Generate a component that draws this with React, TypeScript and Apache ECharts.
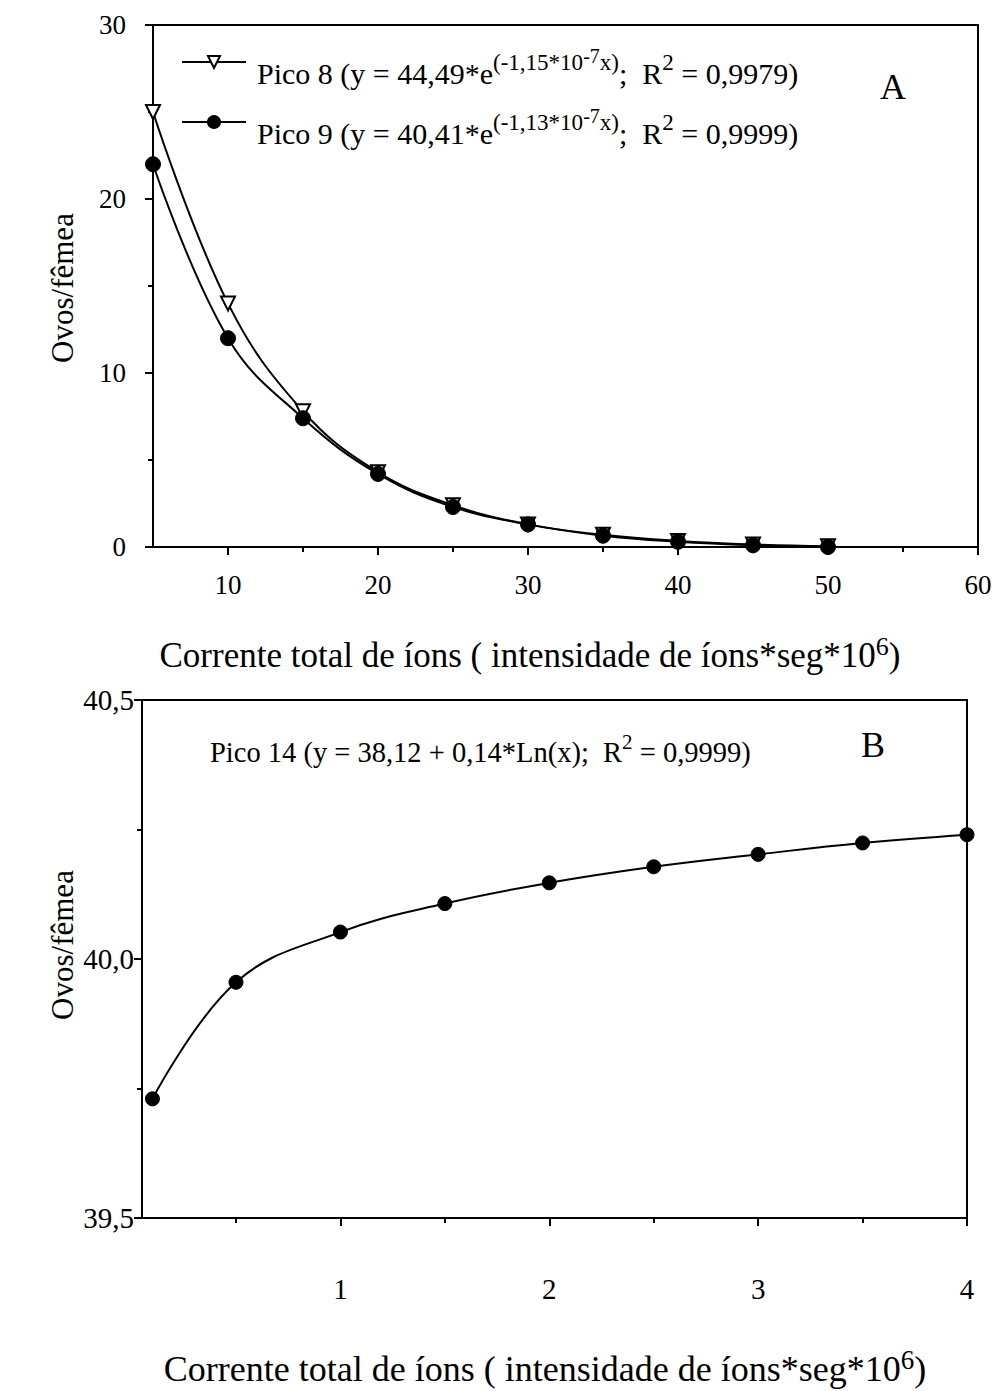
import React, { useEffect, useRef } from 'react';
import * as echarts from 'echarts';

// ---- Data ----
const xA = [5, 10, 15, 20, 25, 30, 35, 40, 45, 50];
const pico8 = [25.0, 14.0, 7.8, 4.3, 2.4, 1.3, 0.7, 0.35, 0.15, 0.05];
const pico9 = [22.0, 12.0, 7.4, 4.2, 2.3, 1.3, 0.65, 0.3, 0.1, 0.0];

const xB = [0.1, 0.5, 1, 1.5, 2, 2.5, 3, 3.5, 4];
const pico14 = [39.73, 39.955, 40.052, 40.107, 40.147, 40.178, 40.202, 40.224, 40.24];

const xATickLabels = [10, 20, 30, 40, 50, 60];
const xAMinorTicks = [15, 25, 35, 45, 55];
const xBTickLabels = [1, 2, 3, 4];
const xBMinorTicks = [0.5, 1.5, 2.5, 3.5];

const legendNames = ['Pico 8', 'Pico 9'];
const legendEquations: Record<string, string> = {
  'Pico 8': '{m0|Pico 8 (y = 44,49*e}{s|(-1,15*10}{ss|-7}{s|x)}{m|;  R}{s|2}{m| = 0,9979)}',
  'Pico 9': '{m0|Pico 9 (y = 40,41*e}{s|(-1,13*10}{ss|-7}{s|x)}{m|;  R}{s|2}{m| = 0,9999)}',
};
const annotationB = '{m|Pico 14 (y = 38,12 + 0,14*Ln(x);  R}{s|2}{m| = 0,9999)}';
const yTitle = 'Ovos/fêmea';
const xTitle = '{m|Corrente total de íons ( intensidade de íons*seg*10}{s|6}{m|)}';

const FONT = 'Liberation Serif';
const BLACK = '#000';

export default function App() {
  const ref = useRef<HTMLDivElement>(null);

  useEffect(() => {
    if (!ref.current) return;
    const chart = echarts.init(ref.current, undefined, { renderer: 'svg' });

    const axisLine = { show: true, lineStyle: { color: BLACK, width: 2 } };
    const labelStyle = { color: BLACK, fontFamily: FONT };

    const titleRich = (main: number, sup: number) => ({
      m: { fontSize: main, fontFamily: FONT, fill: BLACK, color: BLACK, padding: [Math.round(main * 0.5), 0, 0, 0] },
      s: { fontSize: sup, fontFamily: FONT, fill: BLACK, color: BLACK },
    });

    const option: any = {
      animation: false,
      backgroundColor: '#fff',
      textStyle: { fontFamily: FONT, color: BLACK },
      grid: [
        { left: 153, top: 25, width: 825, height: 522, show: true, borderColor: BLACK, borderWidth: 2, containLabel: false },
        { left: 142, top: 700, width: 825, height: 518, show: true, borderColor: BLACK, borderWidth: 2, containLabel: false },
      ],
      xAxis: [
        {
          gridIndex: 0, type: 'value', position: 'bottom', min: 5, max: 60,
          axisLine,
          axisTick: { show: true, customValues: xATickLabels, length: 8, lineStyle: { color: BLACK, width: 2 } },
          axisLabel: { show: true, customValues: xATickLabels, fontSize: 27, margin: 24, ...labelStyle },
          splitLine: { show: false },
        },
        {
          gridIndex: 0, type: 'value', position: 'bottom', offset: 0, min: 5, max: 60,
          axisLine: { show: false },
          axisTick: { show: true, customValues: xAMinorTicks, length: 5, lineStyle: { color: BLACK, width: 2 } },
          axisLabel: { show: false },
          splitLine: { show: false },
        },
        {
          gridIndex: 1, type: 'value', position: 'bottom', min: 0.05, max: 4,
          axisLine,
          axisTick: { show: true, customValues: xBTickLabels, length: 8, lineStyle: { color: BLACK, width: 2 } },
          axisLabel: { show: true, customValues: xBTickLabels, fontSize: 29, margin: 56, ...labelStyle },
          splitLine: { show: false },
        },
        {
          gridIndex: 1, type: 'value', position: 'bottom', offset: 0, min: 0.05, max: 4,
          axisLine: { show: false },
          axisTick: { show: true, customValues: xBMinorTicks, length: 5, lineStyle: { color: BLACK, width: 2 } },
          axisLabel: { show: false },
          splitLine: { show: false },
        },
      ],
      yAxis: [
        {
          gridIndex: 0, type: 'value', min: 0, max: 30, interval: 10,
          axisLine,
          axisTick: { show: true, length: 8, lineStyle: { color: BLACK, width: 2 } },
          minorTick: { show: true, splitNumber: 2, length: 5, lineStyle: { color: BLACK, width: 2 } },
          axisLabel: { fontSize: 27, margin: 27, ...labelStyle },
          splitLine: { show: false },
        },
        {
          gridIndex: 1, type: 'value', min: 39.5, max: 40.5, interval: 0.5,
          axisLine,
          axisTick: { show: true, length: 8, lineStyle: { color: BLACK, width: 2 } },
          minorTick: { show: true, splitNumber: 2, length: 5, lineStyle: { color: BLACK, width: 2 } },
          axisLabel: {
            fontSize: 29, margin: 8, ...labelStyle,
            formatter: (v: number) => v.toFixed(1).replace('.', ','),
          },
          splitLine: { show: false },
        },
      ],
      legend: {
        orient: 'vertical',
        left: 181,
        top: 46,
        padding: 0,
        itemWidth: 64,
        itemHeight: 15,
        itemGap: 18,
        selectedMode: false,
        data: legendNames,
        formatter: (name: string) => legendEquations[name],
        textStyle: {
          color: BLACK,
          fontFamily: FONT,
          rich: {
            m0: { fontSize: 30, fontFamily: FONT, color: BLACK, padding: [22, 0, 0, 6] },
            m: { fontSize: 30, fontFamily: FONT, color: BLACK, padding: [22, 0, 0, 0] },
            s: { fontSize: 23, fontFamily: FONT, color: BLACK },
            ss: { fontSize: 20, fontFamily: FONT, color: BLACK, padding: [0, 0, 12, 0] },
          },
        },
      },
      series: [
        {
          type: 'line', name: 'Pico 8', xAxisIndex: 0, yAxisIndex: 0,
          data: xA.map((x, i) => [x, pico8[i]]),
          smooth: 0.4,
          symbol: 'triangle', symbolRotate: 180, symbolSize: 14,
          lineStyle: { color: BLACK, width: 2 },
          itemStyle: { color: '#fff', borderColor: BLACK, borderWidth: 2 },
          z: 2,
        },
        {
          type: 'line', name: 'Pico 9', xAxisIndex: 0, yAxisIndex: 0,
          data: xA.map((x, i) => [x, pico9[i]]),
          smooth: 0.4,
          symbol: 'circle', symbolSize: 15,
          lineStyle: { color: BLACK, width: 2 },
          itemStyle: { color: BLACK, borderColor: BLACK, borderWidth: 1 },
          z: 3,
        },
        {
          type: 'line', name: 'Pico 14', xAxisIndex: 2, yAxisIndex: 1,
          data: xB.map((x, i) => [x, pico14[i]]),
          smooth: 0.4,
          symbol: 'circle', symbolSize: 14,
          lineStyle: { color: BLACK, width: 2 },
          itemStyle: { color: BLACK, borderColor: BLACK, borderWidth: 1 },
          clip: false,
        },
      ],
      graphic: [
        { type: 'text', x: 893, y: 87, style: { text: 'A', fontSize: 36, fontFamily: FONT, fill: BLACK, align: 'center', verticalAlign: 'middle' } },
        { type: 'text', x: 873, y: 745, style: { text: 'B', fontSize: 36, fontFamily: FONT, fill: BLACK, align: 'center', verticalAlign: 'middle' } },
        {
          type: 'text', x: 210, y: 752,
          style: {
            text: annotationB, fill: BLACK, align: 'left', verticalAlign: 'middle',
            rich: {
              m: { fontSize: 28.5, fontFamily: FONT, fill: BLACK, color: BLACK },
              s: { fontSize: 21, fontFamily: FONT, fill: BLACK, color: BLACK, padding: [0, 0, 20, 0] },
            },
          },
        },
        { type: 'text', x: 62, y: 288, rotation: Math.PI / 2, style: { text: yTitle, fontSize: 31, fontFamily: FONT, fill: BLACK, align: 'center', verticalAlign: 'middle' } },
        { type: 'text', x: 62, y: 945, rotation: Math.PI / 2, style: { text: yTitle, fontSize: 31, fontFamily: FONT, fill: BLACK, align: 'center', verticalAlign: 'middle' } },
        {
          type: 'text', x: 530, y: 646,
          style: { text: xTitle, fill: BLACK, align: 'center', verticalAlign: 'middle', rich: titleRich(35, 26) },
        },
        {
          type: 'text', x: 545, y: 1360,
          style: { text: xTitle, fill: BLACK, align: 'center', verticalAlign: 'middle', rich: titleRich(36, 27) },
        },
      ],
    };

    chart.setOption(option);
    return () => chart.dispose();
  }, []);

  return (
    <div
      ref={ref}
      style={{ position: 'absolute', left: 0, top: 0, width: 996, height: 1391, background: '#fff' }}
    />
  );
}
